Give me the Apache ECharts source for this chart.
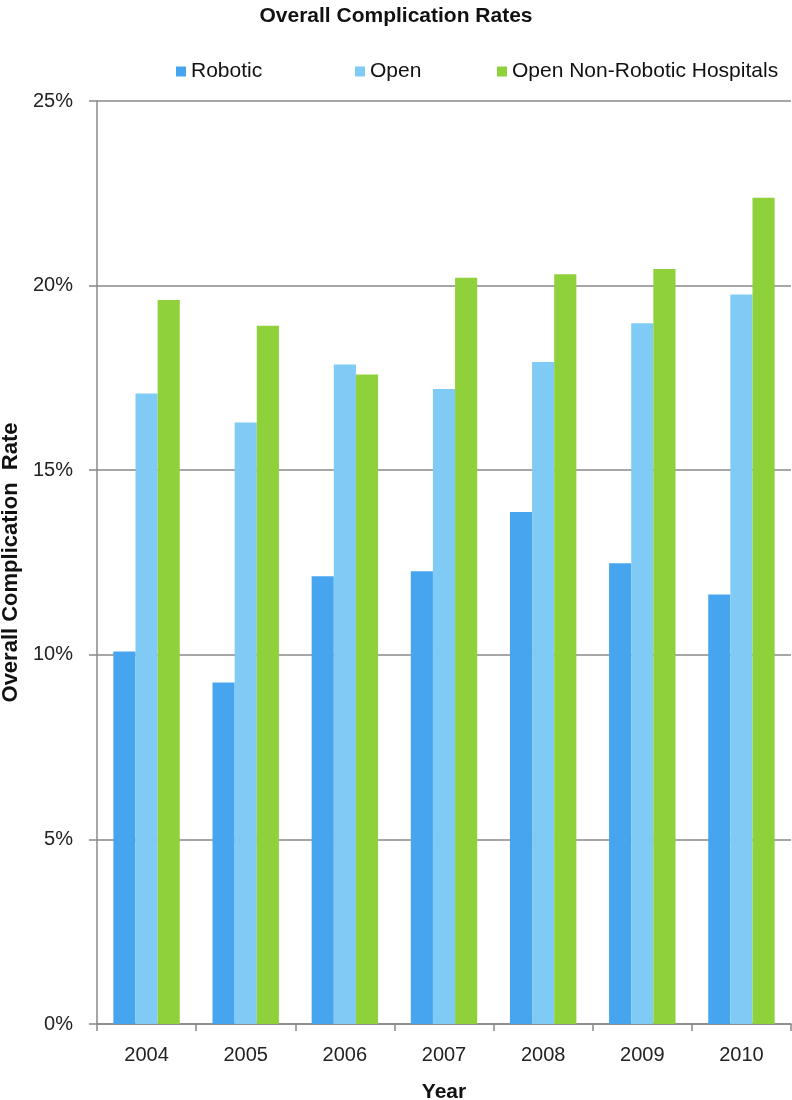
<!DOCTYPE html>
<html><head><meta charset="utf-8">
<script src="https://cdn.jsdelivr.net/npm/echarts@6/dist/echarts.min.js"></script>
<style>html,body{margin:0;padding:0;background:#fff}#c{width:792px;height:1100px}</style>
</head><body><div id="c"></div>
<script>
const years = ['2004','2005','2006','2007','2008','2009','2010'];
const robotic = [10.09, 9.25, 12.13, 12.26, 13.87, 12.48, 11.63];
const openSurg = [17.08, 16.29, 17.86, 17.2, 17.93, 18.98, 19.76];
const openNonRobotic = [19.61, 18.91, 17.59, 20.21, 20.31, 20.45, 22.38];
const seriesNames = ['Robotic', 'Open', 'Open Non-Robotic Hospitals'];
const colors = ['#47A5F0', '#80CBF5', '#8FD13A'];
const FONT = 'Liberation Sans';

const chart = echarts.init(document.getElementById('c'), null, {renderer: 'canvas'});
const legendBase = {top: 56, itemWidth: 10, itemHeight: 10, icon: 'rect',
  textStyle: {fontFamily: FONT, fontSize: 21, color: '#111'}, itemGap: 6};
chart.setOption({
  animation: false,
  color: colors,
  title: {text: 'Overall Complication Rates', left: 'center', top: 1,
    textStyle: {fontFamily: FONT, fontWeight: 'bold', fontSize: 21, color: '#111'}},
  legend: [
    Object.assign({}, legendBase, {left: 171, data: [seriesNames[0]]}),
    Object.assign({}, legendBase, {left: 350, data: [seriesNames[1]]}),
    Object.assign({}, legendBase, {left: 492, data: [seriesNames[2]]})
  ],
  grid: {left: 97, right: 1, top: 101, bottom: 76, containLabel: false, outerBoundsMode: 'none'},
  xAxis: {
    type: 'category', data: years,
    name: 'Year', nameLocation: 'middle', nameGap: 58,
    nameTextStyle: {fontFamily: FONT, fontWeight: 'bold', fontSize: 21, color: '#111'},
    axisLine: {lineStyle: {color: '#888', width: 1.5}},
    axisTick: {show: true, alignWithLabel: false, length: 7, lineStyle: {color: '#888', width: 1.5}},
    axisLabel: {fontFamily: FONT, fontSize: 20, color: '#222', margin: 21}
  },
  yAxis: {
    type: 'value', min: 0, max: 25, interval: 5,
    name: 'Overall Complication  Rate', nameLocation: 'middle', nameGap: 73,
    nameTextStyle: {fontFamily: FONT, fontWeight: 'bold', fontSize: 22, color: '#111'},
    axisLine: {show: true, lineStyle: {color: '#888', width: 1.5}},
    axisTick: {show: true, length: 8, lineStyle: {color: '#888', width: 1.5}},
    axisLabel: {fontFamily: FONT, fontSize: 20, color: '#222', margin: 24, formatter: '{value}%'},
    splitLine: {show: true, lineStyle: {color: '#888', width: 1.5}}
  },
  series: [
    {name: seriesNames[0], type: 'bar', data: robotic, barGap: '0%', barCategoryGap: '33%'},
    {name: seriesNames[1], type: 'bar', data: openSurg, barGap: '0%', barCategoryGap: '33%'},
    {name: seriesNames[2], type: 'bar', data: openNonRobotic, barGap: '0%', barCategoryGap: '33%'}
  ]
});
</script></body></html>
